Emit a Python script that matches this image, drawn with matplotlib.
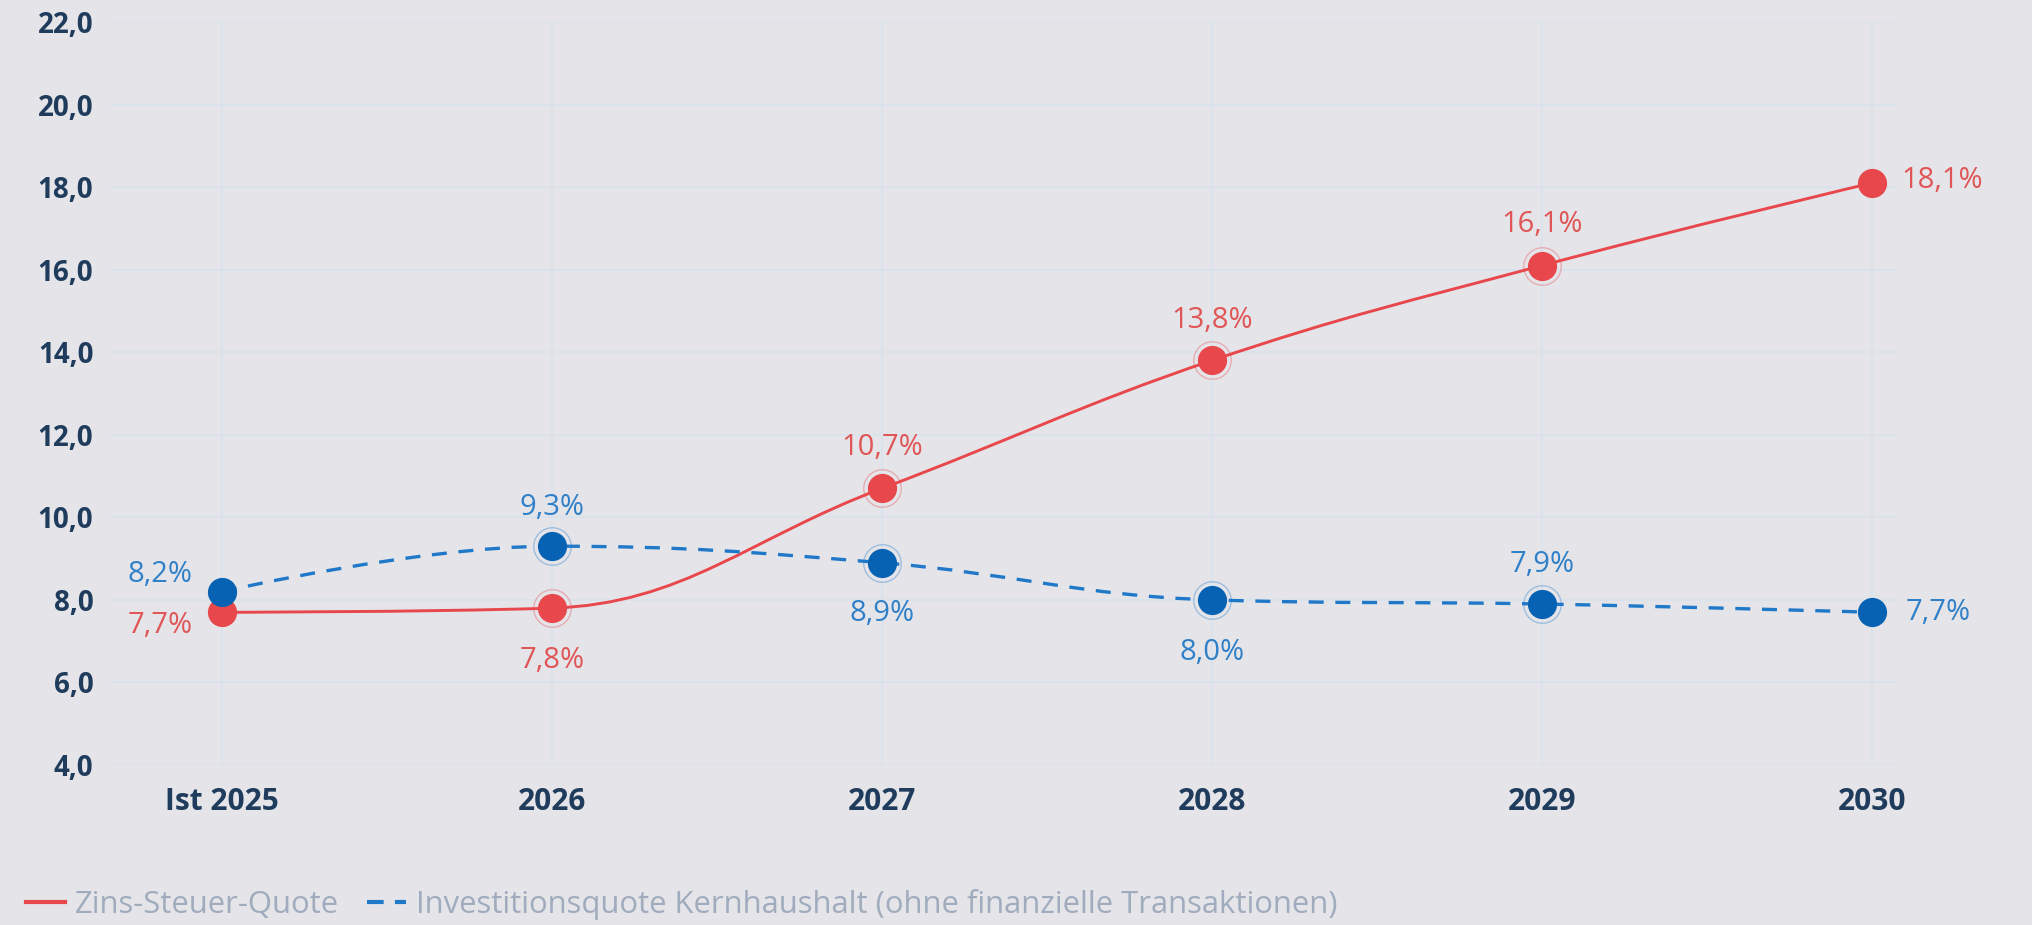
import matplotlib
matplotlib.use("Agg")
import matplotlib.pyplot as plt
from matplotlib.path import Path
from matplotlib.patches import PathPatch
from matplotlib.lines import Line2D
from matplotlib.ticker import FuncFormatter

# data
years = ["Ist 2025", "2026", "2027", "2028", "2029", "2030"]
zins_steuer = [7.7, 7.8, 10.7, 13.8, 16.1, 18.1]
investition = [8.2, 9.3, 8.9, 8.0, 7.9, 7.7]
names = ["Zins-Steuer-Quote",
         "Investitionsquote Kernhaushalt (ohne finanzielle Transaktionen)"]

# label placement (offset in pixels, alignment)
red_labels = [(-29, -13, "right"), (0, -52, "center"), (0, 41, "center"),
              (0, 40, "center"), (0, 41, "center"), (29, 2, "left")]
blue_labels = [(-29, 17, "right"), (0, 39, "center"), (0, -51, "center"),
               (0, -53, "center"), (0, 40, "center"), (34, 0, "left")]

BG = "#e4e4e9"
GRID = "#d9e2ec"
RED = "#e8474b"
RED_TXT = "#e05556"
BLUE_LINE = "#1f78c8"
BLUE_MARK = "#0862b3"
BLUE_TXT = "#2f80c8"
AXIS_TXT = "#1f3c5c"
LEGEND_TXT = "#a0acbd"

plt.rcParams["font.family"] = ["Open Sans", "DejaVu Sans"]


def spline_path(xs, ys, smoothing=1.5):
    """highcharts-like spline as bezier path"""
    n = len(xs)
    left = [None] * n
    right = [None] * n
    d = smoothing + 1
    for i in range(1, n - 1):
        x, y = xs[i], ys[i]
        lx, ly = xs[i - 1], ys[i - 1]
        nx, ny = xs[i + 1], ys[i + 1]
        lcx = (smoothing * x + lx) / d
        lcy = (smoothing * y + ly) / d
        rcx = (smoothing * x + nx) / d
        rcy = (smoothing * y + ny) / d
        corr = 0
        if rcx != lcx:
            corr = (rcy - lcy) * (rcx - x) / (rcx - lcx) + y - rcy
        lcy += corr
        rcy += corr
        if lcy > ly and lcy > y:
            lcy = max(ly, y)
            rcy = 2 * y - lcy
        elif lcy < ly and lcy < y:
            lcy = min(ly, y)
            rcy = 2 * y - lcy
        if rcy > ny and rcy > y:
            rcy = max(ny, y)
            lcy = 2 * y - rcy
        elif rcy < ny and rcy < y:
            rcy = min(ny, y)
            lcy = 2 * y - rcy
        left[i] = (lcx, lcy)
        right[i] = (rcx, rcy)
    right[0] = (xs[0], ys[0])
    left[n - 1] = (xs[-1], ys[-1])
    verts = [(xs[0], ys[0])]
    codes = [Path.MOVETO]
    for i in range(1, n):
        verts += [right[i - 1], left[i], (xs[i], ys[i])]
        codes += [Path.CURVE4] * 3
    return Path(verts, codes)


fig = plt.figure(figsize=(20.33, 9.25), dpi=100, facecolor=BG)
ax = fig.add_axes([0.0541, 0.173, 0.879, 0.8032], facecolor=BG)

x = list(range(len(years)))
ax.set_xlim(-0.339, 5.076)
ax.set_ylim(4, 22)
ax.set_yticks(range(4, 23, 2))
ax.set_xticks(x)
ax.set_xticklabels(years)
ax.yaxis.set_major_formatter(FuncFormatter(lambda v, p: f"{v:.1f}".replace(".", ",")))
ax.grid(True, color=GRID, linewidth=1.2)
ax.set_axisbelow(True)
for s in ax.spines.values():
    s.set_visible(False)
ax.tick_params(length=0, colors=AXIS_TXT, labelsize=20)
ax.tick_params(axis="x", pad=16, labelsize=21.5)
ax.tick_params(axis="y", pad=12)
for lbl in ax.get_xticklabels() + ax.get_yticklabels():
    lbl.set_fontweight("bold")

# lines
ax.add_patch(PathPatch(spline_path(x, zins_steuer), fill=False,
                       edgecolor=RED, linewidth=2.1, zorder=3))
ax.add_patch(PathPatch(spline_path(x, investition), fill=False,
                       edgecolor=BLUE_LINE, linewidth=2.4,
                       linestyle=(0, (4.5, 3.5)), zorder=3))

# halo rings on the inner points
ax.plot(x[1:-1], zins_steuer[1:-1], "o", markersize=27, mfc="none",
        mec=RED, mew=1, alpha=0.35, zorder=4)
ax.plot(x[1:-1], investition[1:-1], "o", markersize=27, mfc="none",
        mec=BLUE_LINE, mew=1, alpha=0.35, zorder=4)

ax.plot(x, zins_steuer, "o", markersize=20, color=RED, zorder=5)
ax.plot(x, investition, "o", markersize=20, color=BLUE_MARK, zorder=5)

for xi, v, (dx, dy, ha) in zip(x, zins_steuer, red_labels):
    ax.annotate(f"{v:.1f}%".replace(".", ","), (xi, v), xytext=(dx, dy),
                textcoords="offset pixels", ha=ha, va="center",
                color=RED_TXT, fontsize=21, zorder=6)
for xi, v, (dx, dy, ha) in zip(x, investition, blue_labels):
    ax.annotate(f"{v:.1f}%".replace(".", ","), (xi, v), xytext=(dx, dy),
                textcoords="offset pixels", ha=ha, va="center",
                color=BLUE_TXT, fontsize=21, zorder=6)

handles = [
    Line2D([], [], color=RED, linewidth=3),
    Line2D([], [], color=BLUE_LINE, linewidth=3, linestyle=(0, (4, 2.7))),
]
leg = fig.legend(handles, names, loc="center left",
                 bbox_to_anchor=(26 / 2033, 1 - 904 / 925), ncol=2,
                 frameon=False, fontsize=22.3, handlelength=1.25,
                 handletextpad=0.33, columnspacing=0.9, borderpad=0,
                 borderaxespad=0)
for t in leg.get_texts():
    t.set_color(LEGEND_TXT)

fig.savefig("out.png", dpi=100, facecolor=BG)
